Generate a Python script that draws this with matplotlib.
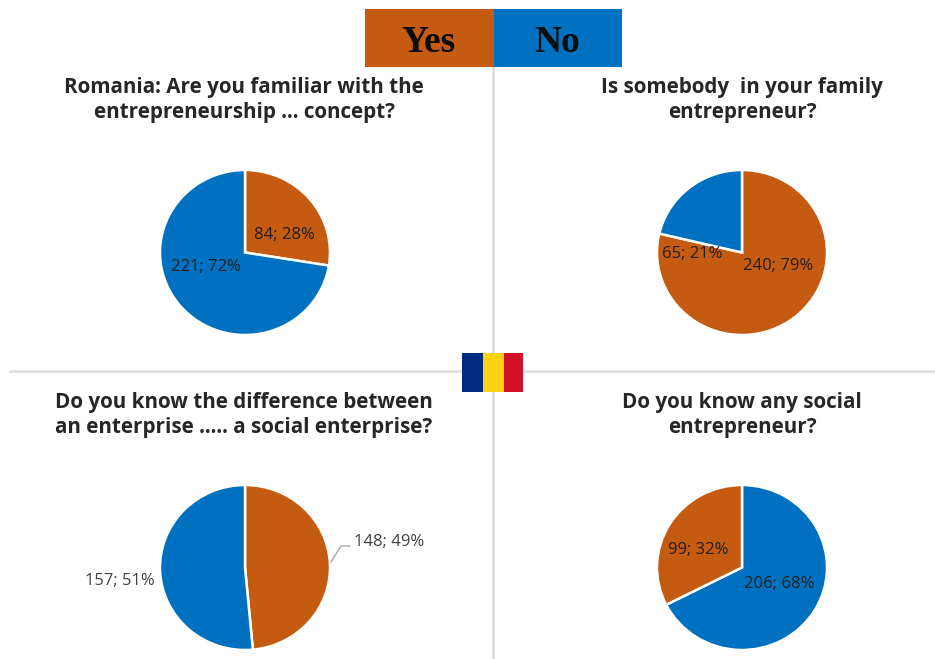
import matplotlib
matplotlib.use("Agg")
import matplotlib.pyplot as plt
from matplotlib.patches import Rectangle

W, H = 935, 659
YES = "#C55A11"
NO = "#0070C0"

titles = ["Romania: Are you familiar with the\nentrepreneurship ... concept?",
          "Is somebody  in your family\nentrepreneur?",
          "Do you know the difference between\nan enterprise ..... a social enterprise?",
          "Do you know any social\nentrepreneur?"]
yes_values = [84, 240, 148, 99]
no_values = [221, 65, 157, 206]
yes_labels = ["84; 28%", "240; 79%", "148; 49%", "99; 32%"]
no_labels = ["221; 72%", "65; 21%", "157; 51%", "206; 68%"]
legend_labels = ["Yes", "No"]
flag_colors = ["#002B7F", "#FCD116", "#CE1126"]
yes_first = [True, True, True, False]

title_pos = [(244, 100), (742, 100), (244, 415), (742, 415)]
centers = [(245, 252.5), (742, 252.5), (245, 567.5), (742, 567.5)]
yes_label_pos = [(284, 235), (778, 266), (389, 542), (698, 550)]
no_label_pos = [(206, 267), (692, 254), (120, 581), (779, 584)]
RX, RY = 85, 82.5

fig = plt.figure(figsize=(W / 100, H / 100), dpi=100, facecolor="white")
bg = fig.add_axes([0, 0, 1, 1])
bg.set_xlim(0, W); bg.set_ylim(H, 0); bg.axis("off")

bg.plot([493, 493], [68, 659], color="#E0E0E0", lw=2, zorder=1)
bg.plot([10, 935], [371, 371], color="#E0E0E0", lw=2, zorder=1)

bg.add_patch(Rectangle((365, 9), 129, 58, color=YES, lw=0, zorder=2))
bg.add_patch(Rectangle((494, 9), 128, 58, color=NO, lw=0, zorder=2))
for x, s in zip((428.5, 557), legend_labels):
    bg.text(x, 42, s, ha="center", va="center", fontsize=27, fontweight="bold",
            family="Liberation Serif", color="#0d0d0d", zorder=3)

flag_x = [462, 483, 503.5]
flag_w = [21, 20.5, 19.5]
for x0, w, c in zip(flag_x, flag_w, flag_colors):
    bg.add_patch(Rectangle((x0, 353), w, 39, color=c, lw=0, zorder=2))

for t, (x, y) in zip(titles, title_pos):
    bg.text(x, y, t, ha="center", va="center", fontsize=14.9, fontweight="bold",
            family="Open Sans", color="#262626", linespacing=1.25)

for i in range(4):
    cx, cy = centers[i]
    ax = fig.add_axes([(cx - RX) / W, 1 - (cy + RY) / H, 2 * RX / W, 2 * RY / H])
    if yes_first[i]:
        vals, cols = [yes_values[i], no_values[i]], [YES, NO]
    else:
        vals, cols = [no_values[i], yes_values[i]], [NO, YES]
    ax.pie(vals, colors=cols, startangle=90, counterclock=False,
           radius=1, wedgeprops=dict(edgecolor="white", linewidth=1.8))
    ax.set_aspect("auto")
    ax.set_xlim(-1, 1); ax.set_ylim(-1, 1)
    ax.patch.set_alpha(0)

top = fig.add_axes([0, 0, 1, 1], zorder=10)
top.set_xlim(0, W); top.set_ylim(H, 0); top.axis("off")
top.plot([331, 341, 350], [562, 546, 546], color="#A6A6A6", lw=1)

for i in range(4):
    for s, (x, y) in ((yes_labels[i], yes_label_pos[i]), (no_labels[i], no_label_pos[i])):
        outside = i == 2
        top.text(x, y, s, ha="center", va="center", fontsize=12, family="Open Sans",
                 color="#404040" if outside else "#1f1f1f")

fig.savefig("out.png", dpi=100)
